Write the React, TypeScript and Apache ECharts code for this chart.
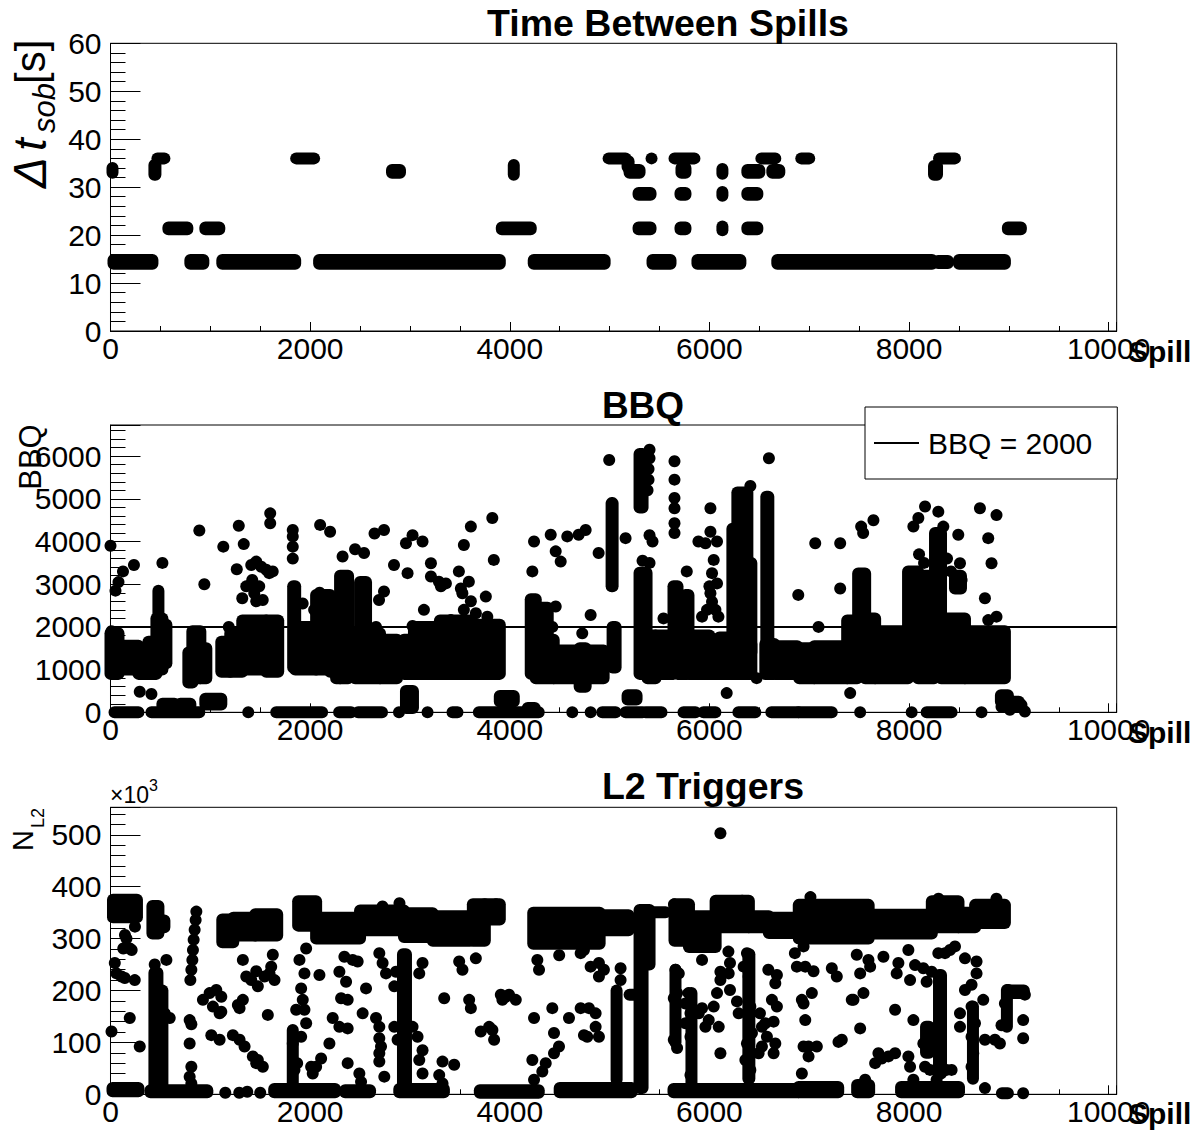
import React, { useEffect, useRef } from 'react';
import * as echarts from 'echarts';

const FONT = '"Liberation Sans", Arial, Helvetica, sans-serif';

// ---------- axes ----------
const X_MAX = 10080;
const X_TICKS = [0, 2000, 4000, 6000, 8000, 10000];
const DT_TICKS = [0, 10, 20, 30, 40, 50, 60];
const BBQ_TICKS = [0, 1000, 2000, 3000, 4000, 5000, 6000];
const L2_TICKS = [0, 100, 200, 300, 400, 500];
const Y_MAX = [60, 6730, 553];
const Y_MAJOR = [10, 1000, 100];
const Y_MINOR = [2, 200, 20];
const BBQ_LINE = 2000;

// ---------- data: runs of overlapping markers [spillFrom, spillTo, valueLow, valueHigh] ----------
const dtRuns: number[][] = [
  [20, 20, 33.0, 34.0],
  [30, 420, 14.0, 14.8],
  [440, 450, 32.6, 34.6],
  [470, 540, 36, 36],
  [580, 770, 21.2, 21.6],
  [800, 930, 14.0, 14.8],
  [950, 1090, 21.2, 21.6],
  [1120, 1850, 14.0, 14.8],
  [1860, 2040, 36, 36],
  [2090, 3900, 14.0, 14.8],
  [2820, 2900, 33.0, 33.6],
  [3920, 4210, 21.2, 21.6],
  [4040, 4040, 32.6, 34.6],
  [4240, 4950, 14.0, 14.8],
  [4990, 5160, 36, 36],
  [5180, 5190, 34.2, 35.4],
  [5200, 5300, 33.0, 33.6],
  [5420, 5420, 36, 36],
  [5290, 5410, 28.4, 28.8],
  [5290, 5410, 21.2, 21.6],
  [5430, 5610, 14.0, 14.8],
  [5650, 5850, 36, 36],
  [5720, 5760, 33.0, 34.0],
  [5710, 5760, 28.4, 28.8],
  [5710, 5760, 21.2, 21.6],
  [5880, 6310, 14.0, 14.8],
  [6130, 6130, 32.8, 33.8],
  [6130, 6130, 28.2, 29.0],
  [6130, 6130, 21.0, 21.8],
  [6380, 6500, 33.0, 33.6],
  [6520, 6660, 36, 36],
  [6630, 6700, 33.0, 33.6],
  [6380, 6480, 28.4, 28.8],
  [6380, 6480, 21.2, 21.6],
  [6680, 8230, 14.0, 14.8],
  [6920, 7000, 36, 36],
  [8250, 8280, 32.6, 34.4],
  [8300, 8460, 36, 36],
  [8290, 8390, 14.2, 14.6],
  [8500, 8960, 14.0, 14.8],
  [8990, 9120, 21.2, 21.6],
];

const bbqRuns: number[][] = [
  [0, 80, 900, 1850], [80, 280, 1000, 1560], [280, 380, 900, 1400], [380, 460, 900, 1650],
  [460, 520, 1000, 2200], [480, 480, 2000, 2850], [520, 560, 1150, 2050],
  [40, 280, 0, 0], [410, 890, 0, 0], [520, 640, 150, 200], [700, 800, 150, 200],
  [780, 820, 700, 1400], [820, 900, 800, 1900], [900, 960, 800, 1500], [950, 1110, 180, 320],
  [1110, 1200, 950, 1650], [1200, 1320, 950, 1850], [1320, 1560, 1000, 2150], [1560, 1680, 950, 2150],
  [1380, 1380, 0, 0], [1660, 2120, 0, 0],
  [1830, 1850, 1050, 2950], [1850, 2060, 1000, 2000], [2060, 2200, 1000, 2750], [2200, 2240, 950, 1400],
  [2260, 2300, 800, 1500], [2300, 2380, 800, 3200], [2290, 2410, 0, 0],
  [2450, 2700, 800, 1850], [2500, 2560, 1000, 3050], [2700, 2870, 800, 1700], [2480, 2720, 0, 0], [2890, 2890, 0, 0],
  [2960, 3030, 100, 500], [2940, 3040, 900, 1700], [3040, 3300, 900, 2000], [3300, 3600, 900, 2150], [3600, 3900, 900, 2050],
  [3900, 4040, 250, 380], [4180, 4250, 100, 100], [3176, 3176, 0, 0], [3426, 3476, 0, 0], [3690, 4290, 0, 0],
  [4210, 4260, 900, 2650], [4260, 4440, 800, 1700], [4320, 4380, 1000, 2450], [4440, 4700, 800, 1450],
  [4700, 4760, 600, 1500], [4760, 4940, 800, 1450],
  [4626, 4626, 0, 0], [4810, 4810, 0, 0], [4926, 5060, 0, 0], [5160, 5330, 0, 0], [5360, 5520, 0, 0],
  [5020, 5030, 2950, 4900], [5030, 5060, 1050, 2000], [5180, 5270, 300, 400],
  [5300, 5330, 4800, 6050], [5300, 5370, 900, 3270], [5380, 5460, 800, 1800],
  [5640, 5680, 1000, 2950],
  [5460, 5640, 900, 1800], [5680, 5780, 900, 2000], [5760, 5790, 1500, 2750], [5790, 6000, 900, 1800], [6000, 6100, 900, 1700],
  [5740, 5860, 0, 0], [5940, 6060, 0, 0],
  [6100, 6230, 900, 1750], [6230, 6280, 1600, 4300], [6280, 6380, 1400, 5150], [6380, 6420, 1400, 3500],
  [6230, 6420, 900, 1600], [6290, 6460, 0, 0],
  [6570, 6590, 1500, 5050], [6560, 6650, 900, 1600], [6660, 6880, 900, 1550], [6620, 6890, 0, 0],
  [6900, 7050, 800, 1500], [7050, 7380, 800, 1550], [7380, 7480, 800, 2150], [7490, 7560, 900, 3250],
  [7560, 7660, 800, 2200], [7660, 7990, 800, 1900], [7990, 8090, 900, 3300], [8090, 8250, 800, 2400],
  [8100, 8200, 2600, 3200], [8260, 8320, 900, 4200], [8320, 8560, 800, 2200], [8460, 8520, 2900, 3200],
  [8560, 8960, 800, 1900],
  [6893, 7226, 0, 0], [7510, 7510, 0, 0], [8026, 8026, 0, 0], [8176, 8426, 0, 0], [8726, 8726, 0, 0],
  [8920, 8990, 250, 400], [9040, 9100, 150, 250],
];

const bbqDots: number[][] = [
  [0, 3900], [50, 2850], [80, 3050], [125, 3300], [235, 3450], [10, 1900], [520, 3500], [293, 480], [410, 430],
  [890, 4260], [940, 3000], [1130, 3880], [1185, 2000],
  [1285, 4370], [1335, 3940], [1265, 3350], [1320, 2670], [1360, 2950], [1410, 3450], [1460, 3530], [1510, 3410],
  [1560, 3340], [1590, 3260], [1625, 3300], [1600, 4660], [1600, 4430], [1415, 3020], [1440, 2790], [1490, 2950],
  [1460, 2600], [1525, 2630], [1420, 3100],
  [1826, 3600], [1826, 3880], [1826, 4120], [1826, 4270], [2100, 4390], [2200, 4230], [1925, 2550], [2040, 2400], [2095, 2800],
  [2325, 3650],
  [2450, 3820], [2540, 3730], [2510, 2670], [2510, 2400], [2660, 2000], [2645, 4190], [2740, 4270], [2690, 2630], [2740, 2830], [2840, 3450],
  [3026, 4150], [2960, 3960], [3126, 4000], [2976, 3260], [3210, 3490], [3210, 3180], [3026, 2020], [3290, 3060], [3360, 3020],
  [3310, 2950], [3490, 3300], [3510, 2900], [3525, 2790], [3590, 3060], [3610, 2600], [3540, 3920], [3610, 4350], [3825, 4550],
  [3840, 3570], [3760, 2710], [3660, 2320], [3775, 2240], [3410, 2160], [3140, 2400], [3540, 2400],
  [4410, 4160], [4460, 3770], [4510, 3530], [4576, 4120], [4690, 4160], [4760, 4270], [4890, 3730], [4810, 2280], [4226, 3300],
  [4243, 4000], [4460, 2480], [4426, 2000], [4726, 1850],
  [4996, 5910], [5160, 4080],
  [5400, 6150], [5400, 5950], [5390, 5700], [5390, 5450], [5380, 5200], [5400, 4150], [5430, 4000], [5330, 3550], [5400, 3500],
  [5650, 5880], [5650, 5450], [5650, 5020], [5650, 4780], [5650, 4430], [5650, 4200],
  [5540, 2200], [5773, 3300],
  [5890, 4000], [5960, 3960], [6010, 4780], [6010, 4230], [6076, 4000], [6043, 3570], [6026, 3260], [6076, 3020], [6000, 2950],
  [6010, 2790], [6026, 2590], [5976, 2400], [6060, 2400], [5926, 2240], [6090, 2240], [6173, 450],
  [6410, 5300], [6473, 800], [6596, 5950], [6890, 2750],
  [7060, 3960], [7310, 3960], [7310, 2900], [7093, 2000], [7410, 450], [7520, 4350], [7540, 4200], [7643, 4500],
  [8043, 4350], [8093, 4550], [8160, 4820], [8293, 4700], [8343, 4350], [8493, 4160], [8510, 3490], [8526, 3100], [8710, 4780],
  [8876, 4620], [8793, 4080], [8826, 3490], [8760, 2670], [8876, 2240], [8793, 2160], [8100, 3700], [8150, 3500], [8380, 3600], [8420, 3300],
  [9126, 170], [9160, 20], [8926, 130], [9010, 60],
];

// L2 values are in units of 10^3
const l2Runs: number[][] = [
  [25, 265, 341, 375], [420, 480, 310, 363], [480, 540, 322, 335],
  [1120, 1230, 293, 337], [1230, 1450, 306, 340], [1450, 1670, 306, 347],
  [1880, 2060, 325, 372], [2060, 2500, 300, 340], [2500, 2940, 316, 354], [2940, 3228, 303, 349],
  [3228, 3600, 296, 343], [3630, 3750, 296, 366], [3750, 3900, 337, 366],
  [4235, 4900, 290, 350], [4900, 5190, 316, 345],
  [5300, 5330, 12, 355], [5330, 5400, 250, 355], [5420, 5560, 351, 351], [5200, 5260, 192, 192],
  [5650, 5795, 296, 366], [5795, 6062, 284, 343], [6062, 6395, 322, 373], [6395, 6595, 322, 343],
  [6595, 6895, 311, 340], [6895, 7595, 300, 365], [7595, 8228, 310, 346], [8228, 8495, 322, 372],
  [8495, 8662, 322, 350], [8662, 8960, 330, 365],
  [440, 470, 12, 234], [480, 520, 10, 200],
  [5070, 5070, 28, 200], [2930, 2960, 14, 270], [1826, 1826, 20, 124], [8300, 8320, 40, 230], [8170, 8200, 80, 130],
  [8980, 8980, 130, 201], [8640, 8640, 30, 169], [8990, 9150, 195, 200], [6390, 6400, 30, 270], [5660, 5660, 100, 240],
  [5820, 5820, 20, 195],
  [20, 280, 6, 12], [400, 970, 4, 8], [1640, 2250, 4, 10], [2350, 2600, 4, 8], [2893, 3340, 4, 10], [3700, 4290, 3, 8],
  [4500, 5220, 4, 12], [5640, 6890, 4, 10], [6893, 7290, 4, 14], [7480, 7600, 4, 18], [7920, 8500, 4, 14], [8930, 8990, 2, 2],
];

const l2Dots: number[][] = [
  [2725, 362], [2895, 368], [3862, 366], [5645, 366], [6328, 373], [7012, 380], [8295, 377], [8875, 377],
  [145, 307], [128, 281], [212, 278], [245, 323],
  [10, 121], [43, 253], [60, 233], [110, 227], [143, 224], [243, 220], [160, 300], [193, 281],
  [193, 147], [293, 92], [443, 250], [560, 259], [543, 156], [593, 147],
  [860, 352], [853, 336], [843, 317], [833, 298], [826, 278], [820, 259], [810, 240], [800, 220],
  [793, 143], [810, 135], [793, 98], [810, 53], [793, 34], [810, 21],
  [926, 182], [993, 195], [1060, 201], [1110, 188], [1026, 169], [1110, 159], [1093, 156],
  [1326, 259], [1360, 227], [1293, 166], [1276, 172], [1326, 182],
  [1010, 114], [1093, 105], [1226, 114], [1293, 105], [1343, 92], [1426, 73], [1476, 66], [1526, 53], [1460, 60],
  [1410, 220], [1460, 237], [1476, 208], [1543, 227], [1593, 233], [1610, 246], [1626, 269], [1643, 220], [1576, 153],
  [1150, 3], [1290, 3], [1370, 5], [1500, 3],
  [1826, 98], [1843, 47], [1870, 60],
  [1960, 281], [1893, 259], [1943, 233], [1910, 204], [1926, 182], [1860, 163], [1943, 163], [2093, 230], [1960, 137], [1910, 111],
  [2010, 53], [2060, 53], [2026, 40],
  [2193, 98], [2110, 69], [2376, 60], [2360, 217], [2226, 147], [2310, 185], [2376, 182], [2376, 127], [2293, 130], [2343, 265],
  [2426, 259], [2476, 256], [2293, 236], [2560, 204], [2526, 156], [2493, 40], [2510, 24],
  [2693, 272], [2726, 253], [2760, 233], [2660, 147], [2693, 130], [2693, 108], [2710, 92], [2693, 79], [2693, 63], [2743, 34],
  [2860, 236], [2843, 208], [2843, 130], [2876, 105],
  [3093, 233], [3126, 253], [3493, 256], [3526, 240], [3660, 262], [3343, 185], [3593, 182], [3610, 166], [3910, 192], [3993, 192],
  [4060, 182], [3926, 182], [3960, 188],
  [3026, 130], [3076, 111], [3126, 85], [3093, 66], [3126, 40], [3710, 121], [3826, 124], [3843, 105], [3793, 130], [3326, 63],
  [3443, 57], [3293, 37], [3326, 21],
  [4243, 147], [4426, 166], [4443, 118], [4493, 92], [4443, 79], [4360, 60], [4326, 44], [4243, 28], [4226, 66], [4593, 147],
  [4710, 166], [4793, 166], [4743, 114], [4776, 111], [4860, 130], [4860, 156], [4893, 111], [4810, 246], [4893, 253], [4943, 240],
  [4893, 227], [5110, 243], [5110, 220], [4495, 268], [4276, 259], [4293, 240], [4710, 272], [4743, 278],
  [5660, 240], [5693, 233], [5676, 195], [5643, 185], [5643, 105], [5676, 89],
  [5790, 195], [5760, 175], [5810, 156], [5760, 137], [5810, 111], [5810, 37],
  [5893, 156], [5926, 166], [5960, 130], [5993, 143], [6043, 169], [6076, 195], [6110, 220], [6110, 236], [6193, 233], [6206, 201],
  [6093, 130], [6110, 79], [5926, 259], [6190, 275], [6206, 253], [6276, 179], [6293, 156],
  [6376, 272], [6343, 246], [6393, 227], [6410, 169], [6426, 118], [6376, 98], [6410, 79], [6360, 66], [6410, 47],
  [6506, 156], [6526, 130], [6560, 137], [6576, 111], [6526, 92], [6493, 79], [6590, 240], [6676, 230], [6660, 214], [6626, 182],
  [6676, 169], [6643, 140], [6660, 98], [6643, 79],
  [6110, 503],
  [6856, 272], [6876, 246],
  [6943, 285], [6960, 246], [6926, 182], [6960, 143], [6943, 92], [6926, 40], [7043, 237], [7226, 243], [7276, 227], [7476, 269],
  [7510, 233], [7593, 259], [7610, 246], [7743, 265], [7893, 253], [7876, 233], [7993, 278], [8010, 220], [8060, 249], [8143, 243],
  [8176, 217], [8226, 236], [8293, 272], [8360, 272], [8410, 278], [8460, 285], [8560, 262], [8676, 256], [8676, 233], [7543, 195],
  [7443, 182], [7026, 195], [6943, 175],
  [8143, 98], [8226, 111], [8210, 85], [8210, 47], [8376, 47], [8276, 28],
  [8560, 201], [8626, 211], [8510, 156], [8510, 130], [8626, 169], [8743, 182], [8660, 137], [8626, 111], [8643, 79], [8626, 53],
  [8760, 105], [8860, 105], [8910, 98],
  [8993, 201], [9093, 195], [9160, 192], [9143, 143], [9143, 108], [8926, 133], [8960, 175],
  [7860, 163], [8043, 143], [7510, 127], [7326, 105], [7293, 101], [7426, 182], [7076, 92], [6993, 92], [6993, 73], [7693, 79],
  [7660, 60], [7726, 69], [7793, 73], [7860, 79], [7993, 73], [8010, 53], [8043, 28], [8426, 47], [8160, 53], [7560, 28], [7510, 8],
  [8760, 12], [9143, 2],
];

const PANEL_RUNS = [dtRuns, bbqRuns, l2Runs];
const PANEL_DOTS = [[] as number[][], bbqDots, l2Dots];
const PANEL_TICKS = [DT_TICKS, BBQ_TICKS, L2_TICKS];

// ---------- layout ----------
const GRIDS = [
  { left: 110.5, top: 43.3, width: 1006.2, height: 287.7 },
  { left: 110.5, top: 425, width: 1006.2, height: 287.3 },
  { left: 110.5, top: 807.3, width: 1006.2, height: 287 },
];
const R = 6;

const renderRun = (_params: any, api: any) => {
  const p0 = api.coord([api.value(0), api.value(2)]);
  const p1 = api.coord([api.value(1), api.value(3)]);
  const x = Math.min(p0[0], p1[0]) - R;
  const y = Math.min(p0[1], p1[1]) - R;
  const w = Math.abs(p1[0] - p0[0]) + 2 * R;
  const h = Math.abs(p1[1] - p0[1]) + 2 * R;
  return { type: 'rect', shape: { x, y, width: w, height: h, r: R }, style: { fill: '#000', opacity: 1 } };
};

function buildOption() {
  const grid = GRIDS.map((g) => ({
    ...g,
    show: true,
    borderColor: '#000',
    borderWidth: 1,
    backgroundColor: 'transparent',
    containLabel: false,
    outerBoundsMode: 'none',
  }));

  const xAxis: any[] = [];
  const yAxis: any[] = [];
  for (let i = 0; i < 3; i++) {
    xAxis.push({
      gridIndex: i, type: 'value', min: 0, max: X_MAX, interval: 2000, position: 'bottom',
      axisLine: { show: true, onZero: false, lineStyle: { color: '#000', width: 1 } },
      axisTick: { show: true, inside: true, length: 9, lineStyle: { color: '#000', width: 1 } },
      axisLabel: {
        show: true, margin: 2, fontSize: 30, color: '#000', fontFamily: FONT,
        formatter: (v: number) => (X_TICKS.indexOf(v) >= 0 ? String(v) : ''),
      },
      splitLine: { show: false },
    });
    xAxis.push({
      gridIndex: i, type: 'value', min: 0, max: X_MAX, interval: 500, position: 'bottom',
      axisLine: { show: false, onZero: false },
      axisTick: { show: true, inside: true, length: 5, lineStyle: { color: '#000', width: 1 } },
      axisLabel: { show: false }, splitLine: { show: false },
    });
    const ticks = PANEL_TICKS[i];
    yAxis.push({
      gridIndex: i, type: 'value', min: 0, max: Y_MAX[i], interval: Y_MAJOR[i], position: 'left',
      axisLine: { show: true, onZero: false, lineStyle: { color: '#000', width: 1 } },
      axisTick: { show: true, inside: true, length: 30, lineStyle: { color: '#000', width: 1 } },
      axisLabel: {
        show: true, margin: 9, fontSize: 30, color: '#000', fontFamily: FONT,
        formatter: (v: number) => (ticks.indexOf(v) >= 0 ? String(v) : ''),
      },
      splitLine: { show: false },
    });
    yAxis.push({
      gridIndex: i, type: 'value', min: 0, max: Y_MAX[i], interval: Y_MINOR[i], position: 'left',
      axisLine: { show: false, onZero: false },
      axisTick: { show: true, inside: true, length: 15, lineStyle: { color: '#000', width: 1 } },
      axisLabel: { show: false }, splitLine: { show: false },
    });
  }

  const series: any[] = [];
  for (let i = 0; i < 3; i++) {
    series.push({
      type: 'custom', xAxisIndex: 2 * i, yAxisIndex: 2 * i, data: PANEL_RUNS[i],
      encode: { x: [0, 1], y: [2, 3] }, renderItem: renderRun, clip: false, silent: true, z: 2,
    });
    if (PANEL_DOTS[i].length) {
      series.push({
        type: 'scatter', xAxisIndex: 2 * i, yAxisIndex: 2 * i, data: PANEL_DOTS[i],
        symbol: 'circle', symbolSize: 12, itemStyle: { color: '#000', opacity: 1 }, clip: false, silent: true, z: 2,
      });
    }
  }
  series.push({
    name: 'BBQ = 2000', type: 'line', xAxisIndex: 2, yAxisIndex: 2,
    data: [[0, BBQ_LINE], [X_MAX, BBQ_LINE]], symbol: 'none', showSymbol: false,
    lineStyle: { color: '#000', width: 2 }, itemStyle: { color: '#000' }, z: 4, silent: true,
  });

  const txt = (x: number, y: number, text: string, size: number, extra: any = {}) => ({
    type: 'text', x, y, z: 10,
    style: { text, fontSize: size, fontFamily: FONT, fill: '#000', align: 'center', verticalAlign: 'middle', ...extra },
  });

  const graphic: any[] = [
    txt(668, 22.5, 'Time Between Spills', 37.5, { fontWeight: 'bold' }),
    txt(643, 405.5, 'BBQ', 37, { fontWeight: 'bold' }),
    txt(703, 785.5, 'L2 Triggers', 37.5, { fontWeight: 'bold' }),
    txt(1128, 351, 'Spill', 30, { fontWeight: 'bold', align: 'left' }),
    txt(1128, 732, 'Spill', 30, { fontWeight: 'bold', align: 'left' }),
    txt(1128, 1113, 'Spill', 30, { fontWeight: 'bold', align: 'left' }),
    {
      type: 'group', x: 30, y: 188, rotation: Math.PI / 2, z: 10,
      children: [
        txt(0, 0, 'Δ', 46, { fontStyle: 'italic', align: 'left' }),
        txt(37, 0, 't', 46, { fontStyle: 'italic', align: 'left' }),
        txt(55, 14, 'sob', 31, { fontStyle: 'italic', align: 'left' }),
        txt(104, 0, '[s]', 42, { align: 'left' }),
      ],
    },
    { ...txt(30, 457, 'BBQ', 31), rotation: Math.PI / 2 },
    {
      type: 'group', x: 23, y: 851, rotation: Math.PI / 2, z: 10,
      children: [
        txt(0, 0, 'N', 29, { align: 'left' }),
        txt(23, 15, 'L2', 18, { align: 'left' }),
      ],
    },
    txt(110, 795, '×10', 23, { align: 'left' }),
    txt(149, 785, '3', 16, { align: 'left' }),
  ];

  return {
    animation: false,
    backgroundColor: '#fff',
    grid,
    xAxis,
    yAxis,
    series,
    legend: {
      data: [{ name: 'BBQ = 2000', icon: 'rect' }], left: 865, top: 407, orient: 'horizontal',
      itemWidth: 45, itemHeight: 2, padding: [21, 25, 21, 9],
      itemStyle: { color: '#000', borderWidth: 0 },
      borderColor: '#000', borderWidth: 1, borderRadius: 0, backgroundColor: '#fff',
      textStyle: { fontSize: 30, color: '#000', fontFamily: FONT, padding: [0, 0, 0, 4] }, selectedMode: false, z: 8,
    },
    graphic,
  };
}

export default function App() {
  const ref = useRef<HTMLDivElement>(null);
  useEffect(() => {
    if (!ref.current) return;
    const chart = echarts.init(ref.current, undefined, { renderer: 'svg' });
    chart.setOption(buildOption() as any);
    return () => chart.dispose();
  }, []);
  return (
    <div
      ref={ref}
      style={{ position: 'absolute', left: 0, top: 0, width: 1200, height: 1130, background: '#fff' }}
    />
  );
}
